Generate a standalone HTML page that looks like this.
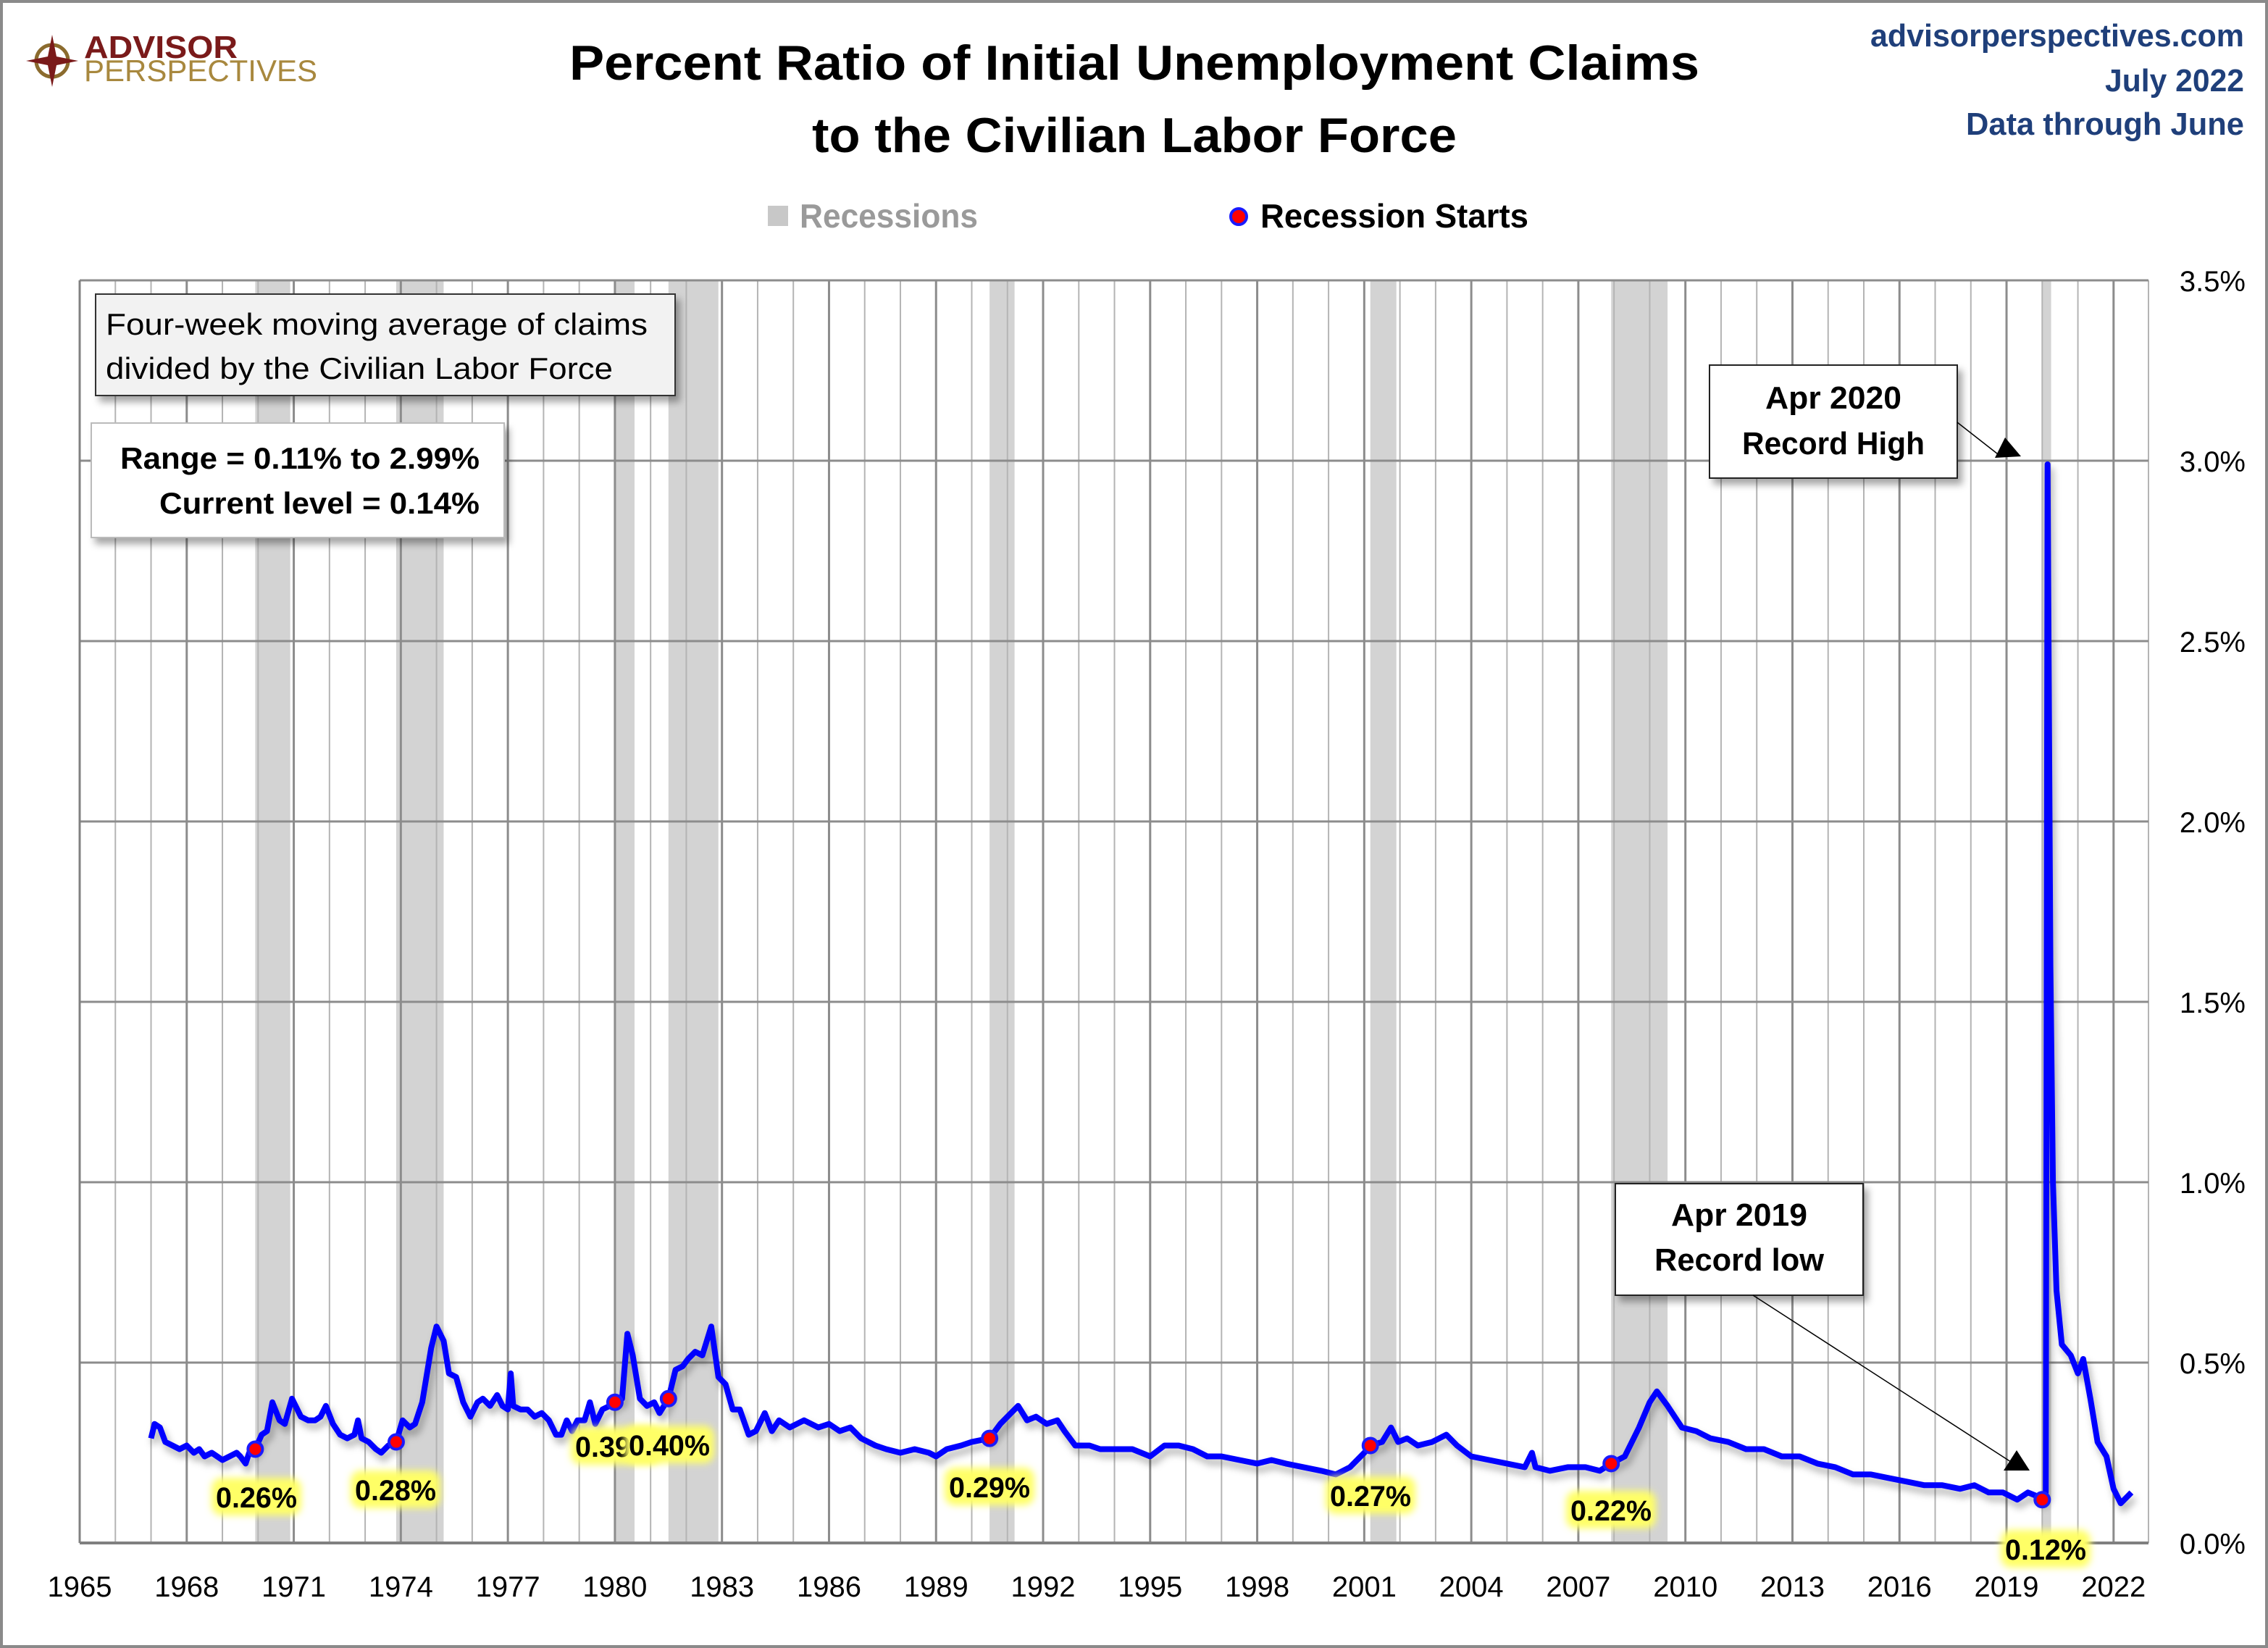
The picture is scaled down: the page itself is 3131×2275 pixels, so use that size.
<!DOCTYPE html>
<html><head><meta charset="utf-8">
<style>
html,body{margin:0;padding:0;background:#fff;}
svg{display:block;}
text{font-family:"Liberation Sans",sans-serif;}
</style></head>
<body>
<svg id="s" width="3131" height="2275" viewBox="0 0 3131 2275" xmlns="http://www.w3.org/2000/svg">
<defs>
<filter id="sh" x="-10%" y="-10%" width="130%" height="140%"><feDropShadow dx="6" dy="8" stdDeviation="5" flood-color="#000" flood-opacity="0.35"/></filter>
<filter id="lsh" x="-5%" y="-5%" width="110%" height="110%"><feDropShadow dx="4" dy="8" stdDeviation="5" flood-color="#000" flood-opacity="0.3"/></filter>
<filter id="glow" x="-20%" y="-40%" width="140%" height="180%"><feGaussianBlur stdDeviation="5"/></filter>
</defs>
<rect x="0" y="0" width="3131" height="2275" fill="#fff"/>
<rect x="2" y="2" width="3127" height="2271" fill="none" stroke="#8a8a8a" stroke-width="4"/>
<g id="rec"></g>
<g id="grid"></g>
<g id="series"></g>
<g id="labels"></g>

<circle cx="72" cy="84" r="22" fill="none" stroke="#8b6b2e" stroke-width="5"/>
<path d="M72 48 L78 78 L108 84 L78 90 L72 120 L66 90 L36 84 L66 78 Z" fill="#7a1a1a"/>
<text x="116" y="80" font-size="44" font-weight="bold" fill="#7a1a1a" textLength="212" lengthAdjust="spacingAndGlyphs">ADVISOR</text>
<text x="116" y="112" font-size="42" fill="#a8883e" textLength="322" lengthAdjust="spacingAndGlyphs">PERSPECTIVES</text>

<text x="1566" y="110" font-size="68" font-weight="bold" text-anchor="middle" textLength="1560" lengthAdjust="spacingAndGlyphs">Percent Ratio of Initial Unemployment Claims</text>
<text x="1566" y="210" font-size="68" font-weight="bold" text-anchor="middle" textLength="890" lengthAdjust="spacingAndGlyphs">to the Civilian Labor Force</text>

<text x="3098" y="64" font-size="44" font-weight="bold" fill="#1f3f7a" text-anchor="end" textLength="516" lengthAdjust="spacingAndGlyphs">advisorperspectives.com</text>
<text x="3098" y="126" font-size="44" font-weight="bold" fill="#1f3f7a" text-anchor="end" textLength="192" lengthAdjust="spacingAndGlyphs">July 2022</text>
<text x="3098" y="186" font-size="44" font-weight="bold" fill="#1f3f7a" text-anchor="end" textLength="384" lengthAdjust="spacingAndGlyphs">Data through June</text>

<rect x="1060" y="284" width="28" height="28" fill="#c8c8c8"/>
<text x="1104" y="314" font-size="46" font-weight="bold" fill="#9a9a9a" textLength="246" lengthAdjust="spacingAndGlyphs">Recessions</text>
<circle cx="1710" cy="299" r="11" fill="#ff0000" stroke="#1a1aff" stroke-width="4"/>
<text x="1740" y="314" font-size="46" font-weight="bold" fill="#000" textLength="370" lengthAdjust="spacingAndGlyphs">Recession Starts</text>

<rect x="132" y="406" width="800" height="140" fill="#f2f2f2" stroke="#333" stroke-width="2" filter="url(#sh)"/>
<text x="146" y="462" font-size="42" textLength="748" lengthAdjust="spacingAndGlyphs">Four-week moving average of claims</text>
<text x="146" y="523" font-size="42" textLength="700" lengthAdjust="spacingAndGlyphs">divided by the Civilian Labor Force</text>

<rect x="126" y="584" width="570" height="158" fill="#fff" stroke="#bbb" stroke-width="2" filter="url(#sh)"/>
<text x="662" y="647" font-size="42" font-weight="bold" text-anchor="end" textLength="496" lengthAdjust="spacingAndGlyphs">Range = 0.11% to 2.99%</text>
<text x="662" y="709" font-size="42" font-weight="bold" text-anchor="end" textLength="442" lengthAdjust="spacingAndGlyphs">Current level = 0.14%</text>

<rect x="2360" y="504" width="342" height="156" fill="#fff" stroke="#222" stroke-width="2" filter="url(#sh)"/>
<text x="2531" y="564" font-size="44" font-weight="bold" text-anchor="middle" textLength="188" lengthAdjust="spacingAndGlyphs">Apr 2020</text>
<text x="2531" y="627" font-size="44" font-weight="bold" text-anchor="middle" textLength="252" lengthAdjust="spacingAndGlyphs">Record High</text>
<line x1="2702" y1="583" x2="2762" y2="630" stroke="#000" stroke-width="1.5"/>
<polygon points="2768,604 2790,630 2754,632" fill="#000"/>

<rect x="2230" y="1634" width="342" height="154" fill="#fff" stroke="#222" stroke-width="2" filter="url(#sh)"/>
<text x="2401" y="1692" font-size="44" font-weight="bold" text-anchor="middle" textLength="188" lengthAdjust="spacingAndGlyphs">Apr 2019</text>
<text x="2401" y="1754" font-size="44" font-weight="bold" text-anchor="middle" textLength="234" lengthAdjust="spacingAndGlyphs">Record low</text>
<line x1="2420" y1="1788" x2="2776" y2="2018" stroke="#000" stroke-width="1.5"/>
<polygon points="2784,2002 2802,2030 2766,2030" fill="#000"/>
</svg>
<script>
(function(){
var NS="http://www.w3.org/2000/svg";
var L=110,R=2966,T=387,B=2130;
function X(y){return L+(y-1965)*49.26;}
function Y(v){return B-v*(B-T)/3.5;}
function el(p,tag,a,txt){var e=document.createElementNS(NS,tag);for(var k in a)e.setAttribute(k,a[k]);if(txt)e.textContent=txt;p.appendChild(e);return e;}
var rec=document.getElementById('rec'),grid=document.getElementById('grid'),ser=document.getElementById('series'),lab=document.getElementById('labels');
var recs=[[1969.92,1970.9],[1973.87,1975.2],[1980.0,1980.55],[1981.5,1982.9],[1990.5,1991.2],[2001.17,2001.9],[2007.92,2009.5],[2020.0,2020.25]];
recs.forEach(function(r){el(rec,'rect',{x:X(r[0]),y:T,width:X(r[1])-X(r[0]),height:B-T,fill:'#d3d3d3'});});
for(var yr=1966;yr<=2023;yr++){var x=X(yr);if(x>R)break;var maj=(yr-1965)%3==0;
 el(grid,'line',{x1:x,y1:T,x2:x,y2:B,stroke:maj?'#8c8c8c':'#b4b4b4','stroke-width':maj?3:2});}
el(grid,'line',{x1:R,y1:T,x2:R,y2:B,stroke:'#b4b4b4','stroke-width':2});
for(var i=1;i<=7;i++){el(grid,'line',{x1:L,y1:Y(i*0.5),x2:R,y2:Y(i*0.5),stroke:'#8c8c8c','stroke-width':3});}
el(grid,'line',{x1:L,y1:T,x2:L,y2:B,stroke:'#808080','stroke-width':3});
el(grid,'line',{x1:L,y1:B,x2:R,y2:B,stroke:'#808080','stroke-width':4});
for(var i=0;i<=7;i++){el(lab,'text',{x:3100,y:Y(i*0.5)+15,'font-size':40,'text-anchor':'end'},(i*0.5).toFixed(1)+'%');}
for(var yr=1965;yr<=2022;yr+=3){el(lab,'text',{x:X(yr),y:2204,'font-size':40,'text-anchor':'middle'},String(yr));}
var d=[[1967.0,0.29],[1967.1,0.33],[1967.25,0.32],[1967.4,0.28],[1967.6,0.27],[1967.8,0.26],[1968.0,0.27],[1968.2,0.25],[1968.35,0.26],[1968.5,0.24],[1968.7,0.25],[1968.85,0.24],[1969.0,0.23],[1969.2,0.24],[1969.4,0.25],[1969.5,0.24],[1969.65,0.22],[1969.75,0.25],[1969.92,0.26],[1970.1,0.30],[1970.25,0.31],[1970.4,0.39],[1970.6,0.34],[1970.75,0.33],[1970.95,0.40],[1971.2,0.35],[1971.4,0.34],[1971.6,0.34],[1971.75,0.35],[1971.9,0.38],[1972.1,0.33],[1972.3,0.30],[1972.5,0.29],[1972.7,0.30],[1972.8,0.34],[1972.9,0.29],[1973.1,0.28],[1973.3,0.26],[1973.45,0.25],[1973.65,0.27],[1973.87,0.28],[1974.05,0.34],[1974.25,0.32],[1974.4,0.33],[1974.6,0.39],[1974.85,0.54],[1975.0,0.60],[1975.2,0.56],[1975.35,0.47],[1975.55,0.46],[1975.75,0.39],[1975.95,0.35],[1976.15,0.39],[1976.3,0.40],[1976.5,0.38],[1976.7,0.41],[1976.85,0.38],[1977.0,0.37],[1977.08,0.47],[1977.15,0.38],[1977.35,0.37],[1977.55,0.37],[1977.75,0.35],[1977.95,0.36],[1978.15,0.34],[1978.35,0.30],[1978.5,0.30],[1978.65,0.34],[1978.8,0.31],[1978.95,0.34],[1979.15,0.34],[1979.3,0.39],[1979.45,0.33],[1979.65,0.37],[1979.85,0.38],[1980.0,0.39],[1980.2,0.40],[1980.35,0.58],[1980.5,0.52],[1980.7,0.40],[1980.9,0.38],[1981.1,0.39],[1981.25,0.36],[1981.5,0.40],[1981.7,0.48],[1981.9,0.49],[1982.05,0.51],[1982.25,0.53],[1982.45,0.52],[1982.7,0.60],[1982.9,0.46],[1983.1,0.44],[1983.3,0.37],[1983.5,0.37],[1983.75,0.30],[1983.95,0.31],[1984.2,0.36],[1984.4,0.31],[1984.6,0.34],[1984.9,0.32],[1985.3,0.34],[1985.7,0.32],[1986.0,0.33],[1986.3,0.31],[1986.6,0.32],[1986.9,0.29],[1987.3,0.27],[1987.6,0.26],[1988.0,0.25],[1988.4,0.26],[1988.8,0.25],[1989.0,0.24],[1989.3,0.26],[1989.7,0.27],[1990.0,0.28],[1990.5,0.29],[1990.8,0.33],[1991.1,0.36],[1991.3,0.38],[1991.55,0.34],[1991.8,0.35],[1992.1,0.33],[1992.4,0.34],[1992.6,0.31],[1992.9,0.27],[1993.3,0.27],[1993.6,0.26],[1994.0,0.26],[1994.5,0.26],[1995.0,0.24],[1995.4,0.27],[1995.8,0.27],[1996.2,0.26],[1996.6,0.24],[1997.0,0.24],[1997.5,0.23],[1998.0,0.22],[1998.4,0.23],[1998.8,0.22],[1999.3,0.21],[1999.8,0.20],[2000.2,0.19],[2000.6,0.21],[2001.0,0.25],[2001.17,0.27],[2001.5,0.28],[2001.75,0.32],[2001.95,0.28],[2002.2,0.29],[2002.5,0.27],[2002.9,0.28],[2003.3,0.30],[2003.6,0.27],[2004.0,0.24],[2004.5,0.23],[2005.0,0.22],[2005.5,0.21],[2005.7,0.25],[2005.8,0.21],[2006.2,0.20],[2006.7,0.21],[2007.2,0.21],[2007.6,0.20],[2007.92,0.22],[2008.3,0.24],[2008.7,0.32],[2009.0,0.39],[2009.2,0.42],[2009.5,0.38],[2009.9,0.32],[2010.3,0.31],[2010.7,0.29],[2011.2,0.28],[2011.7,0.26],[2012.2,0.26],[2012.7,0.24],[2013.2,0.24],[2013.7,0.22],[2014.2,0.21],[2014.7,0.19],[2015.2,0.19],[2015.7,0.18],[2016.2,0.17],[2016.7,0.16],[2017.2,0.16],[2017.7,0.15],[2018.1,0.16],[2018.5,0.14],[2018.9,0.14],[2019.3,0.12],[2019.6,0.14],[2019.85,0.13],[2020.0,0.12],[2020.1,0.14],[2020.15,2.99],[2020.23,1.60],[2020.3,1.0],[2020.4,0.70],[2020.55,0.55],[2020.8,0.52],[2021.0,0.47],[2021.15,0.51],[2021.35,0.40],[2021.55,0.28],[2021.8,0.24],[2022.0,0.15],[2022.2,0.11],[2022.4,0.13],[2022.5,0.14]];
var p='';d.forEach(function(q,i){p+=(i?'L':'M')+X(q[0]).toFixed(1)+' '+Y(q[1]).toFixed(1);});
el(ser,'path',{d:p,fill:'none',stroke:'#0000ff','stroke-width':8,'stroke-linejoin':'round',filter:'url(#lsh)'});
var dots=[[1969.92,0.26],[1973.87,0.28],[1980.0,0.39],[1981.5,0.40],[1990.5,0.29],[2001.17,0.27],[2007.92,0.22],[2020.0,0.12]];
dots.forEach(function(q){el(ser,'circle',{cx:X(q[0]),cy:Y(q[1]),r:10,fill:'#ff0000',stroke:'#1a1aff','stroke-width':4});});
var labs=[[354,2066,'0.26%'],[546,2056,'0.28%'],[850,1996,'0.39%'],[924,1994,'0.40%'],[1366,2052,'0.29%'],[1892,2064,'0.27%'],[2224,2084,'0.22%'],[2824,2138,'0.12%']];
labs.forEach(function(l){el(lab,'rect',{x:l[0]-62,y:l[1]-26,width:124,height:52,rx:14,fill:'#ffff66',filter:'url(#glow)'});
 el(lab,'text',{x:l[0],y:l[1]+15,'font-size':40,'font-weight':'bold','text-anchor':'middle',textLength:112,lengthAdjust:'spacingAndGlyphs'},l[2]);});
})();
</script>
</body></html>
